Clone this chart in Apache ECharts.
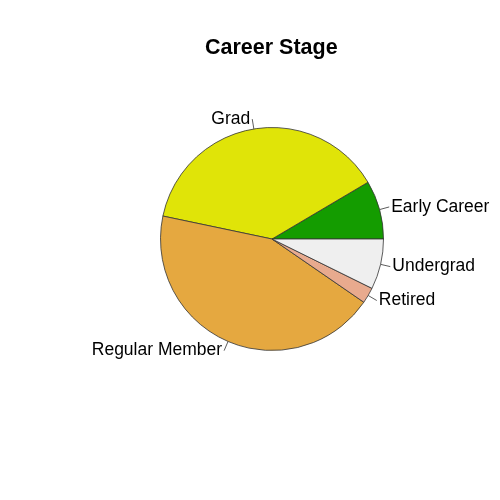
<!DOCTYPE html>
<html>
<head>
<meta charset="utf-8">
<script src="https://cdn.jsdelivr.net/npm/echarts@6/dist/echarts.min.js"></script>
<style>
  html, body { margin: 0; padding: 0; background: #fff; }
  #chart { width: 500px; height: 500px; }
</style>
</head>
<body>
<div id="chart"></div>
<script>
// career stage shares
const stages = ['Early Career', 'Grad', 'Regular Member', 'Retired', 'Undergrad'];
const shares = [8.5, 38.2, 43.7, 2.3, 7.3];
const sliceColors = ['#149c00', '#e0e408', '#e5a840', '#e8aa8e', '#efefef'];

const chart = echarts.init(document.getElementById('chart'));

const option = {
    animation: false,
    title: {
        text: 'Career Stage',
        left: 200,
        top: 32,
        textStyle: { fontFamily: 'Liberation Sans', fontSize: 21.5, fontWeight: 'bold', color: '#000' }
    },
    series: [
        {
            type: 'pie',
            center: [272, 239],
            radius: 111.5,
            startAngle: 0,
            clockwise: false,
            avoidLabelOverlap: false,
            data: stages.map((name, i) => ({
                name: name,
                value: shares[i],
                itemStyle: { color: sliceColors[i] }
            })),
            itemStyle: { borderColor: '#333', borderWidth: 0.8 },
            label: {
                show: true,
                position: 'outside',
                formatter: '{b}',
                fontFamily: 'Liberation Sans',
                fontSize: 17.5,
                color: '#000',
                distanceToLabelLine: 2
            },
            labelLine: {
                show: true,
                length: 10,
                length2: 0,
                smooth: false,
                lineStyle: { color: '#333', width: 0.8 }
            },
            emphasis: { disabled: true }
        }
    ]
};

chart.setOption(option);
</script>
</body>
</html>
